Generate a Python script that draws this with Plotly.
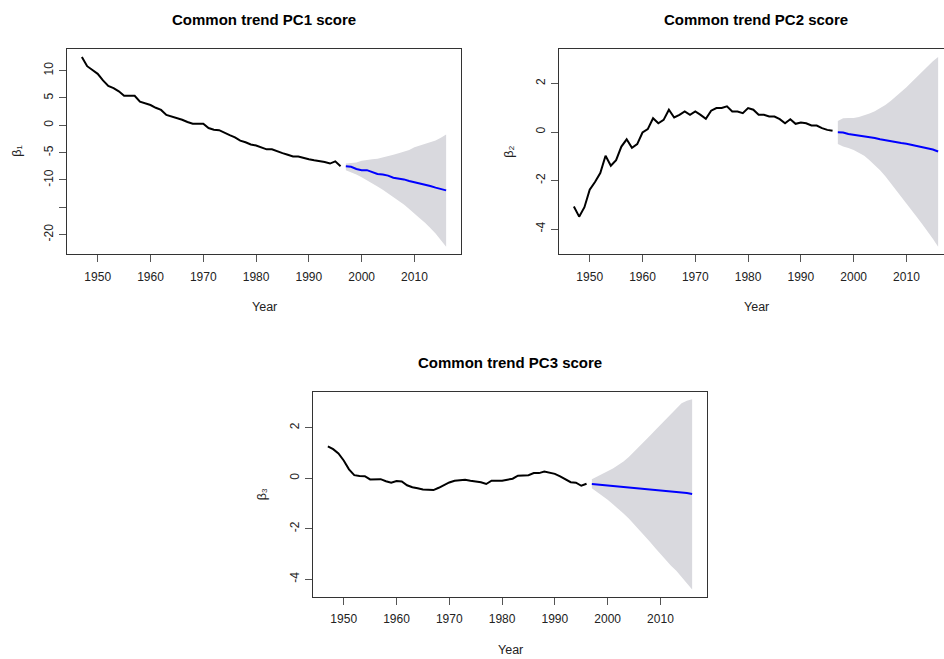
import plotly.graph_objects as go

W, H = 944, 659

years_obs = list(range(1947, 1997))
years_fc = list(range(1997, 2017))
x_ticks = [1950, 1960, 1970, 1980, 1990, 2000, 2010]

# PC1 score: fitted trend, forecast and forecast interval
pc1_obs = [12.5, 10.8, 10.1, 9.4, 8.2, 7.2, 6.8, 6.2, 5.4, 5.4,
           5.4, 4.3, 4.0, 3.7, 3.2, 2.8, 1.9, 1.6, 1.4, 1.0,
           0.6, 0.3, 0.3, 0.3, -0.5, -0.8, -0.9, -1.4, -1.8, -2.2,
           -2.8, -3.1, -3.5, -3.7, -4.0, -4.4, -4.4, -4.8, -5.1, -5.4,
           -5.7, -5.7, -6.0, -6.2, -6.4, -6.5, -6.7, -7.0, -6.6, -7.5]
pc1_fc = [-7.5, -7.6, -8.0, -8.2, -8.2, -8.5, -8.9, -9.0, -9.2, -9.6,
          -9.7, -9.9, -10.2, -10.4, -10.6, -10.8, -11.1, -11.4, -11.7, -11.9]
pc1_hi = [-7.0, -6.9, -6.8, -6.5, -6.3, -6.2, -6.1, -5.9, -5.7, -5.4,
          -5.1, -4.8, -4.5, -4.0, -3.7, -3.4, -3.1, -2.8, -2.3, -1.7]
pc1_lo = [-8.2, -8.6, -9.0, -9.5, -10.0, -10.6, -11.2, -11.8, -12.4, -13.1,
          -13.8, -14.5, -15.3, -16.1, -17.0, -17.8, -18.8, -19.8, -20.9, -22.2]
pc1_yticks = [10, 5, 0, -5, -10, -15, -20]
pc1_yticktext = ["10", "5", "0", "-5", "-10", "", "-20"]

# PC2 score
pc2_obs = [-3.07, -3.49, -3.1, -2.38, -2.06, -1.69, -0.98, -1.39, -1.16, -0.6,
           -0.3, -0.65, -0.5, -0.02, 0.12, 0.57, 0.36, 0.5, 0.92, 0.6,
           0.71, 0.85, 0.71, 0.85, 0.71, 0.55, 0.88, 0.99, 0.99, 1.06,
           0.85, 0.85, 0.78, 0.99, 0.92, 0.71, 0.71, 0.64, 0.64, 0.53,
           0.36, 0.53, 0.34, 0.39, 0.36, 0.27, 0.27, 0.16, 0.09, 0.05]
pc2_fc = [-0.01, -0.02, -0.08, -0.11, -0.15, -0.19, -0.22, -0.25, -0.30, -0.33,
          -0.36, -0.40, -0.45, -0.48, -0.53, -0.57, -0.61, -0.66, -0.72, -0.80]
pc2_hi = [0.46, 0.57, 0.58, 0.58, 0.62, 0.68, 0.76, 0.86, 0.98, 1.12,
          1.28, 1.46, 1.65, 1.85, 2.06, 2.28, 2.50, 2.72, 2.92, 3.10]
pc2_lo = [-0.49, -0.60, -0.66, -0.74, -0.85, -0.98, -1.16, -1.36, -1.58, -1.82,
          -2.08, -2.36, -2.66, -2.96, -3.24, -3.52, -3.80, -4.08, -4.40, -4.73]
pc2_yticks = [2, 0, -2, -4]
pc2_yticktext = ["2", "0", "-2", "-4"]

# PC3 score
pc3_obs = [1.26, 1.15, 0.98, 0.70, 0.35, 0.12, 0.09, 0.08, -0.05, -0.05,
           -0.04, -0.12, -0.18, -0.11, -0.13, -0.28, -0.36, -0.40, -0.45, -0.46,
           -0.47, -0.38, -0.27, -0.17, -0.10, -0.08, -0.06, -0.10, -0.13, -0.16,
           -0.23, -0.10, -0.10, -0.10, -0.06, -0.02, 0.10, 0.11, 0.12, 0.20,
           0.20, 0.26, 0.22, 0.17, 0.07, -0.06, -0.16, -0.18, -0.30, -0.22]
pc3_fc = [-0.23, -0.25, -0.27, -0.28, -0.30, -0.32, -0.34, -0.35, -0.37, -0.39,
          -0.41, -0.43, -0.45, -0.47, -0.49, -0.51, -0.54, -0.56, -0.59, -0.63]
pc3_hi = [-0.04, 0.06, 0.16, 0.25, 0.38, 0.52, 0.66, 0.84, 1.04, 1.25,
          1.46, 1.68, 1.90, 2.12, 2.34, 2.56, 2.76, 2.96, 3.06, 3.12]
pc3_lo = [-0.40, -0.55, -0.70, -0.85, -1.03, -1.20, -1.40, -1.60, -1.82, -2.05,
          -2.28, -2.52, -2.76, -3.00, -3.24, -3.46, -3.66, -3.90, -4.14, -4.40]
pc3_yticks = [2, 0, -2, -4]
pc3_yticktext = ["2", "0", "-2", "-4"]

panels = [
    dict(title="Common trend PC1 score", ylab="β₁",
         obs=pc1_obs, fc=pc1_fc, lo=pc1_lo, hi=pc1_hi,
         yt=pc1_yticks, ytt=pc1_yticktext,
         box=(67.3, 49.3, 460.7, 254.3), title_y=20, xlab_y=306.7, ylab_x=17),
    dict(title="Common trend PC2 score", ylab="β₂",
         obs=pc2_obs, fc=pc2_fc, lo=pc2_lo, hi=pc2_hi,
         yt=pc2_yticks, ytt=pc2_yticktext,
         box=(559.3, 49.3, 952.7, 254.3), title_y=20, xlab_y=306.7, ylab_x=509),
    dict(title="Common trend PC3 score", ylab="β₃",
         obs=pc3_obs, fc=pc3_fc, lo=pc3_lo, hi=pc3_hi,
         yt=pc3_yticks, ytt=pc3_yticktext,
         box=(313.3, 391.7, 706.7, 597.0), title_y=362.3, xlab_y=650, ylab_x=262),
]

BAND = "#D9D9DE"
FONT = "Liberation Sans, Arial, sans-serif"
LABEL_FONT = dict(family=FONT, size=12.5, color="#222222")

fig = go.Figure()
annotations = []


def padded(lo, hi, frac=0.04):
    d = (hi - lo) * frac
    return lo - d, hi + d


for i, p in enumerate(panels, start=1):
    xa = "x" if i == 1 else f"x{i}"
    ya = "y" if i == 1 else f"y{i}"
    all_x = years_obs + years_fc
    xr0, xr1 = padded(min(all_x), max(all_x))
    all_y = p["obs"] + p["fc"] + p["lo"] + p["hi"]
    yr0, yr1 = padded(min(all_y), max(all_y))

    x0, y0, x1, y1 = p["box"]
    full_x1 = x1
    clipped = x1 > W
    if clipped:
        xr1 = xr0 + (xr1 - xr0) * (W - x0) / (x1 - x0)
        x1 = W

    # forecast interval
    fig.add_trace(go.Scatter(
        x=years_fc + years_fc[::-1], y=p["hi"] + p["lo"][::-1],
        fill="toself", fillcolor=BAND, line=dict(width=0),
        mode="lines", hoverinfo="skip", showlegend=False, xaxis=xa, yaxis=ya))
    # fitted trend
    fig.add_trace(go.Scatter(
        x=years_obs, y=p["obs"], mode="lines",
        line=dict(color="black", width=2), showlegend=False, xaxis=xa, yaxis=ya))
    # point forecast
    fig.add_trace(go.Scatter(
        x=years_fc, y=p["fc"], mode="lines",
        line=dict(color="#0000FF", width=2), showlegend=False, xaxis=xa, yaxis=ya))

    axis_common = dict(
        showline=True, linecolor="#333333", linewidth=1,
        ticks="outside", ticklen=7, tickcolor="#555555", tickwidth=1,
        showgrid=False, zeroline=False,
        tickfont=dict(family=FONT, size=12, color="#222222"),
    )
    key = "" if i == 1 else str(i)
    fig.update_layout(**{
        f"xaxis{key}": dict(
            axis_common, domain=[x0 / W, x1 / W], range=[xr0, xr1],
            tickvals=x_ticks, anchor=ya, mirror=True, ticklabelstandoff=4),
        f"yaxis{key}": dict(
            axis_common, domain=[1 - y1 / H, 1 - y0 / H], range=[yr0, yr1],
            tickvals=p["yt"], ticktext=p["ytt"], tickangle=-90,
            anchor=xa, mirror=not clipped, ticklabelstandoff=2),
    })

    cx = (x0 + full_x1) / 2
    annotations.append(dict(
        text=p["title"], x=cx / W, y=1 - p["title_y"] / H,
        xref="paper", yref="paper", xanchor="center", yanchor="middle",
        showarrow=False,
        font=dict(family=FONT, size=15, color="black", weight="bold")))
    annotations.append(dict(
        text="Year", x=cx / W, y=1 - p["xlab_y"] / H,
        xref="paper", yref="paper", xanchor="center", yanchor="middle",
        showarrow=False, font=LABEL_FONT))
    annotations.append(dict(
        text=p["ylab"], x=p["ylab_x"] / W, y=1 - ((y0 + y1) / 2) / H,
        xref="paper", yref="paper", xanchor="center", yanchor="middle",
        textangle=-90, showarrow=False, font=LABEL_FONT))

fig.update_layout(
    width=W, height=H, margin=dict(l=0, r=0, t=0, b=0),
    paper_bgcolor="white", plot_bgcolor="white",
    annotations=annotations, showlegend=False,
)

fig.write_html("out.html")
